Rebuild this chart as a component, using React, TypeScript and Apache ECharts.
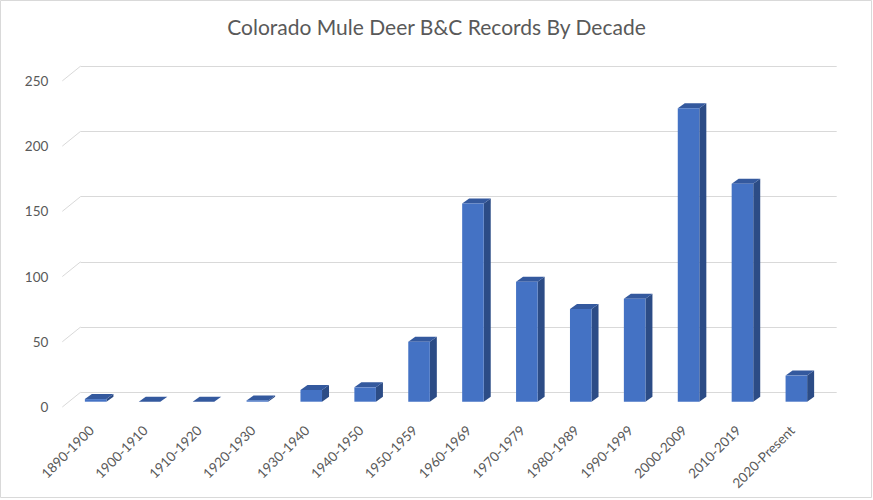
import React, { useEffect, useRef } from "react";
import * as echarts from "echarts";

const categories = [
  "1890-1900", "1900-1910", "1910-1920", "1920-1930", "1930-1940", "1940-1950", "1950-1959",
  "1960-1969", "1970-1979", "1980-1989", "1990-1999", "2000-2009", "2010-2019", "2020-Present",
];
const records = [2, 0, 0, 1, 9, 11, 46, 152, 92, 71, 79, 225, 167, 20];
const yTicks = [0, 50, 100, 150, 200, 250];
const title = "Colorado Mule Deer B&C Records By Decade";

const FONT = "Lato";
const TEXT = "#595959";

export default function App() {
  const ref = useRef<HTMLDivElement>(null);
  useEffect(() => {
    const chart = echarts.init(ref.current!, null, { renderer: "svg" });
    const H = 326.1;
    const wallDx = 18.2, wallDy = 14.7;
    const depthDx = 7, depthDy = 5;
    const yAxisBase = { type: "value", min: 0, max: 250, interval: 50 };
    chart.setOption({
      animation: false,
      backgroundColor: "#ffffff",
      title: {
        text: title,
        left: "center",
        top: 11,
        textStyle: { fontFamily: FONT, fontSize: 21, fontWeight: "normal", color: TEXT },
      },
      graphic: [
        {
          type: "rect",
          shape: { x: 0.5, y: 0.5, width: 871, height: 497 },
          style: { fill: "none", stroke: "#d9d9d9", lineWidth: 1 },
          silent: true,
        },
      ],
      grid: [
        { left: 80.5, top: 66.2, width: 756.2, height: H }, // back wall
        { left: 68.7, top: 75.6, width: 754.6, height: H }, // bar front plane
        { left: 62.3, top: 80.9, width: 756.2, height: H }, // wall front (labels)
      ],
      xAxis: [
        { type: "category", data: categories, gridIndex: 0, show: false },
        {
          type: "category",
          data: categories,
          gridIndex: 1,
          axisLine: { show: false },
          axisTick: { show: false },
          axisLabel: {
            interval: 0,
            rotate: 45,
            margin: 22,
            padding: [0, 6, 0, 0],
            fontFamily: FONT,
            fontSize: 13.5,
            color: TEXT,
          },
        },
        { type: "category", data: categories, gridIndex: 2, show: false },
      ],
      yAxis: [
        {
          ...yAxisBase,
          gridIndex: 0,
          axisLabel: { show: false },
          axisLine: { show: false },
          axisTick: { show: false },
          splitLine: { show: true, lineStyle: { color: "#d9d9d9", width: 1 } },
        },
        { ...yAxisBase, gridIndex: 1, show: false, splitLine: { show: false } },
        {
          ...yAxisBase,
          gridIndex: 2,
          axisLine: { show: false },
          axisTick: { show: false },
          splitLine: { show: false },
          axisLabel: { margin: 14, fontFamily: FONT, fontSize: 13.5, color: TEXT },
        },
      ],
      series: [
        {
          type: "custom",
          xAxisIndex: 0,
          yAxisIndex: 0,
          data: yTicks.map((v) => [0, v]),
          encode: { x: 0, y: 1 },
          silent: true,
          renderItem: (params: any, api: any) => {
            const cs = params.coordSys;
            const y = api.coord([0, api.value(1)])[1];
            return {
              type: "line",
              shape: { x1: cs.x - wallDx, y1: y + wallDy, x2: cs.x, y2: y },
              style: { stroke: "#d9d9d9", lineWidth: 1 },
            };
          },
        },
        {
          type: "custom",
          xAxisIndex: 1,
          yAxisIndex: 1,
          data: records.map((v, i) => [i, v]),
          encode: { x: 0, y: 1 },
          renderItem: (params: any, api: any) => {
            const i = api.value(0);
            const v = api.value(1);
            const top = api.coord([i, v]);
            const base = api.coord([i, 0]);
            const w = api.size([1, 0])[0] * 0.4;
            const x = top[0] - w / 2;
            const yt = top[1];
            const yb = base[1];
            return {
              type: "group",
              children: [
                {
                  type: "polygon",
                  shape: {
                    points: [
                      [x + w, yt], [x + w + depthDx, yt - depthDy],
                      [x + w + depthDx, yb - depthDy], [x + w, yb],
                    ],
                  },
                  style: { fill: "#2C4C86" },
                },
                {
                  type: "polygon",
                  shape: {
                    points: [
                      [x, yt], [x + depthDx, yt - depthDy],
                      [x + w + depthDx, yt - depthDy], [x + w, yt],
                    ],
                  },
                  style: { fill: "#34599E" },
                },
                {
                  type: "rect",
                  shape: { x, y: yt, width: w, height: yb - yt },
                  style: { fill: "#4472C4" },
                },
              ],
            };
          },
        },
      ],
    });
    return () => chart.dispose();
  }, []);
  return (
    <div
      ref={ref}
      style={{ position: "absolute", left: 0, top: 0, width: 873, height: 500, background: "#fff" }}
    />
  );
}
